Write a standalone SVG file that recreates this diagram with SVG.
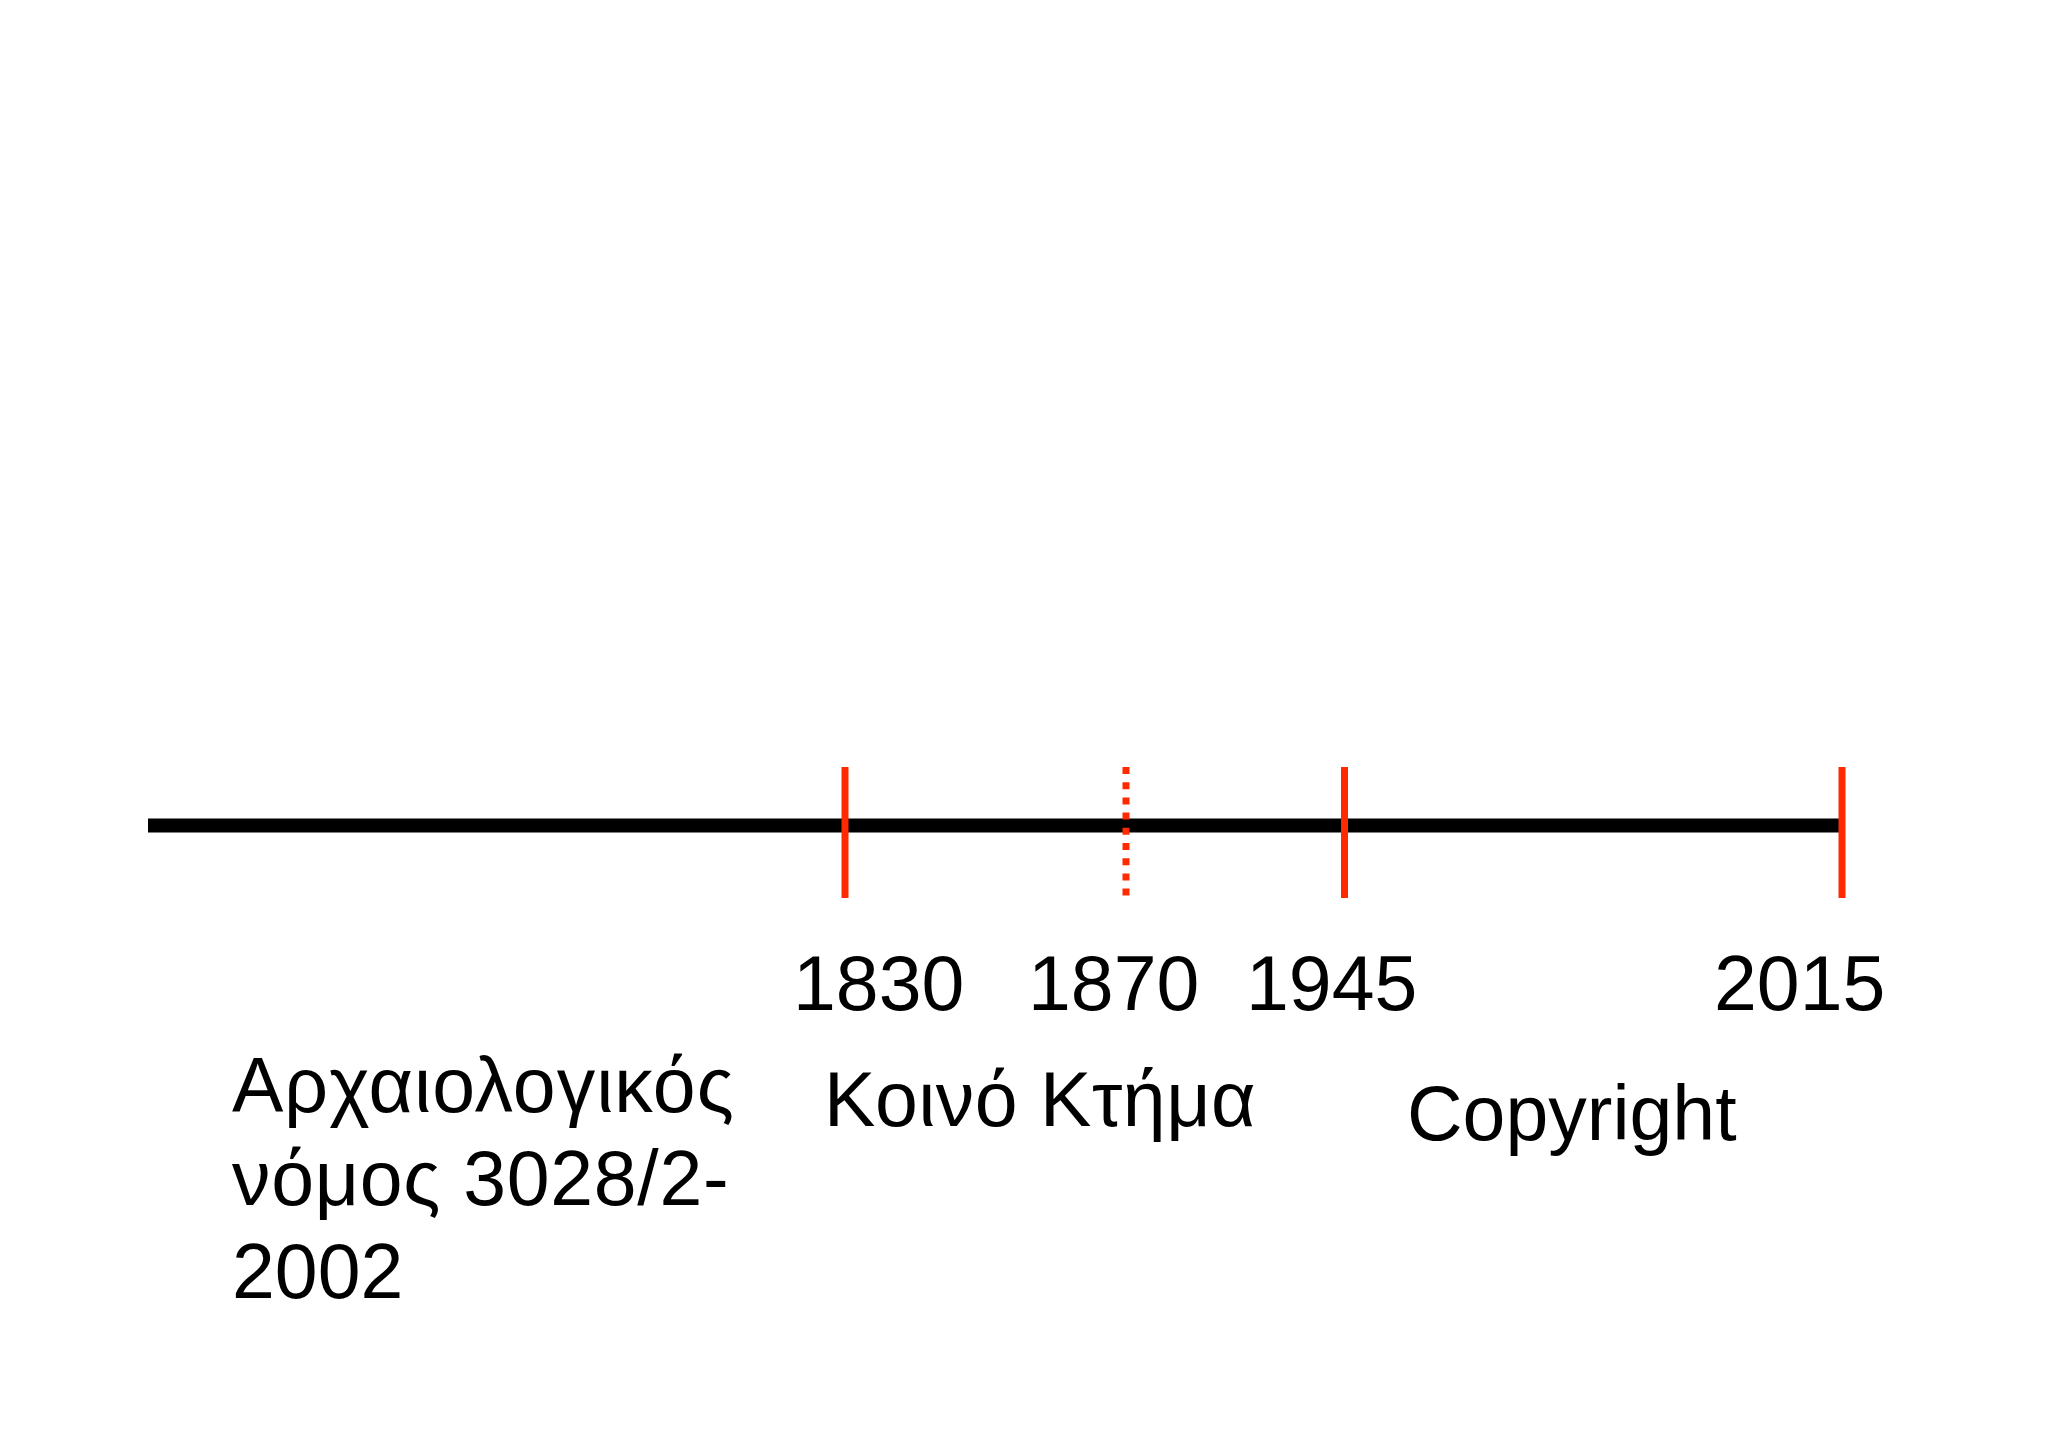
<svg xmlns="http://www.w3.org/2000/svg" width="2048" height="1447" viewBox="0 0 2048 1447">
  <style>
    .lbl { font-family: "Liberation Sans", Arial, sans-serif; font-size: 77px; fill: #000; }
    .tick { stroke: #FF2A00; stroke-width: 7; fill: none; }
    .dotted { stroke-dasharray: 7 8.2; }
  </style>
  <rect width="2048" height="1447" fill="#fff"/>
  <g id="connectors">
    <line id="timeline" x1="148" y1="825.5" x2="1840" y2="825.5" stroke="#000" stroke-width="14"/>
  </g>
  <g id="tick-1830"><line class="tick" x1="845" y1="767" x2="845" y2="898"/></g>
  <g id="tick-1870"><line class="tick dotted" x1="1126" y1="767" x2="1126" y2="898"/></g>
  <g id="tick-1945"><line class="tick" x1="1344.5" y1="767" x2="1344.5" y2="898"/></g>
  <g id="tick-2015"><line class="tick" x1="1842" y1="767" x2="1842" y2="898"/></g>
  <g id="label-1830"><text class="lbl" x="793" y="1010">1830</text></g>
  <g id="label-1870"><text class="lbl" x="1028" y="1010">1870</text></g>
  <g id="label-1945"><text class="lbl" x="1246" y="1010">1945</text></g>
  <g id="label-2015"><text class="lbl" x="1714" y="1010">2015</text></g>
  <g id="label-archaeological">
    <text class="lbl" x="232" y="1112" letter-spacing="1">Αρχαιολογικός</text>
    <text class="lbl" x="232" y="1205" letter-spacing="0.7">νόμος 3028/2-</text>
    <text class="lbl" x="232" y="1298">2002</text>
  </g>
  <g id="label-public-domain"><text class="lbl" x="824" y="1126" letter-spacing="0.5">Κοινό Κτήμα</text></g>
  <g id="label-copyright"><text class="lbl" x="1407" y="1140">Copyright</text></g>
</svg>
